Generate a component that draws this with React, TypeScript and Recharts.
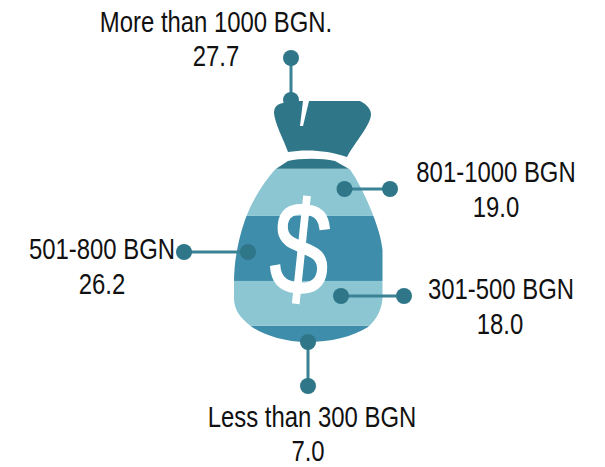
import React from 'react';
import { BarChart, Bar, XAxis, YAxis, LabelList } from 'recharts';

const categories = ['Less than 300 BGN', '301-500 BGN', '501-800 BGN', '801-1000 BGN', 'More than 1000 BGN.'];
const shares = [7.0, 18.0, 26.2, 19.0, 27.7];
const bandColors = ['#3e8dab', '#8cc6d3', '#3e8dab', '#8cc6d3', '#2f7689'];

const data = [
  categories.reduce<Record<string, number | string>>(
    (row, cat, i) => {
      row[cat] = shares[i];
      return row;
    },
    { name: 'income' }
  ),
];

// callout geometry, one per band: the two dots and where the text sits
const callouts = [
  { a: [308, 342], b: [308, 386], tx: 312, vx: 308, ty: 427, vy: 460.5 },
  { a: [341, 296], b: [404, 296], tx: 501, vx: 500, ty: 299, vy: 334 },
  { a: [248, 252], b: [184, 252], tx: 102, vx: 102, ty: 259, vy: 294 },
  { a: [344.5, 189], b: [390, 189], tx: 496, vx: 496, ty: 182, vy: 217 },
  { a: [291, 100], b: [291, 58], tx: 216, vx: 216, ty: 32, vy: 66 },
];

const TEXT_SQUEEZE = 0.824;

const BAG_PATH =
  'M283 103 C277 104 274 107 274 113 C275 124 283 138 288 152 C305 149 328 150 347 157 C355 142 371 125 371 114 C371 109 366 104 360 101 L309 101 L303 126 L300 126 L303 101 L291 101 Z ' +
  'M275 169.5 L288 161 C300 158 322 158 335 161 L350 169.5 C362 186 381 228 382.5 250 L382.5 298 C382 310 376 320 368 327 C352 337 330 342 308 342 C284 342 264 335 252 327 C240 318 234 310 234 298 L234 282 C234 262 238 240 245 220 C252 200 264 182 275 169.5 Z';

const Band = (props: any) => (
  <rect x={props.x} y={props.y} width={props.width} height={props.height} fill={props.fill} clipPath="url(#bagClip)" />
);

const NarrowText = ({ x, y, children }: { x: number; y: number; children: React.ReactNode }) => (
  <text
    transform={`translate(${x} ${y}) scale(${TEXT_SQUEEZE} 1)`}
    textAnchor="middle"
    fontSize={29}
    fill="#111"
    fontFamily="'Liberation Sans'"
  >
    {children}
  </text>
);

const Callout = (i: number) => (props: any) => {
  const c = callouts[i];
  return (
    <g>
      <line x1={c.a[0]} y1={c.a[1]} x2={c.b[0]} y2={c.b[1]} stroke="#3a8296" strokeWidth={3} />
      <circle cx={c.a[0]} cy={c.a[1]} r={8} fill="#2f7689" />
      <circle cx={c.b[0]} cy={c.b[1]} r={8} fill="#2f7689" />
      <NarrowText x={c.tx} y={c.ty}>{categories[i]}</NarrowText>
      <NarrowText x={c.vx} y={c.vy}>{Number(props.value).toFixed(1)}</NarrowText>
    </g>
  );
};

const DollarSign = () => (
  <text
    textAnchor="middle"
    fontSize={132}
    fill="#fff"
    stroke="#fff"
    strokeWidth={1.5}
    fontFamily="'Liberation Sans'"
    transform="translate(301 248) rotate(6) scale(0.8 1) translate(0 46)"
  >
    $
  </text>
);

export default function App() {
  return (
    <div style={{ position: 'absolute', left: 0, top: 0, width: 605, height: 467 }}>
      <BarChart
        width={605}
        height={467}
        data={data}
        barCategoryGap={0}
        margin={{ top: 100, right: 221, bottom: 124, left: 233 }}
      >
        <defs>
          <clipPath id="bagClip">
            <path d={BAG_PATH} />
          </clipPath>
        </defs>
        <XAxis dataKey="name" hide />
        <YAxis hide domain={[0, 97.9]} />
        {categories.map((cat, i) => (
          <Bar key={cat} dataKey={cat} stackId="bag" fill={bandColors[i]} shape={Band} isAnimationActive={false}>
            {i === categories.length - 1 && <LabelList dataKey={cat} content={DollarSign} />}
            <LabelList dataKey={cat} content={Callout(i)} />
          </Bar>
        ))}
      </BarChart>
    </div>
  );
}
